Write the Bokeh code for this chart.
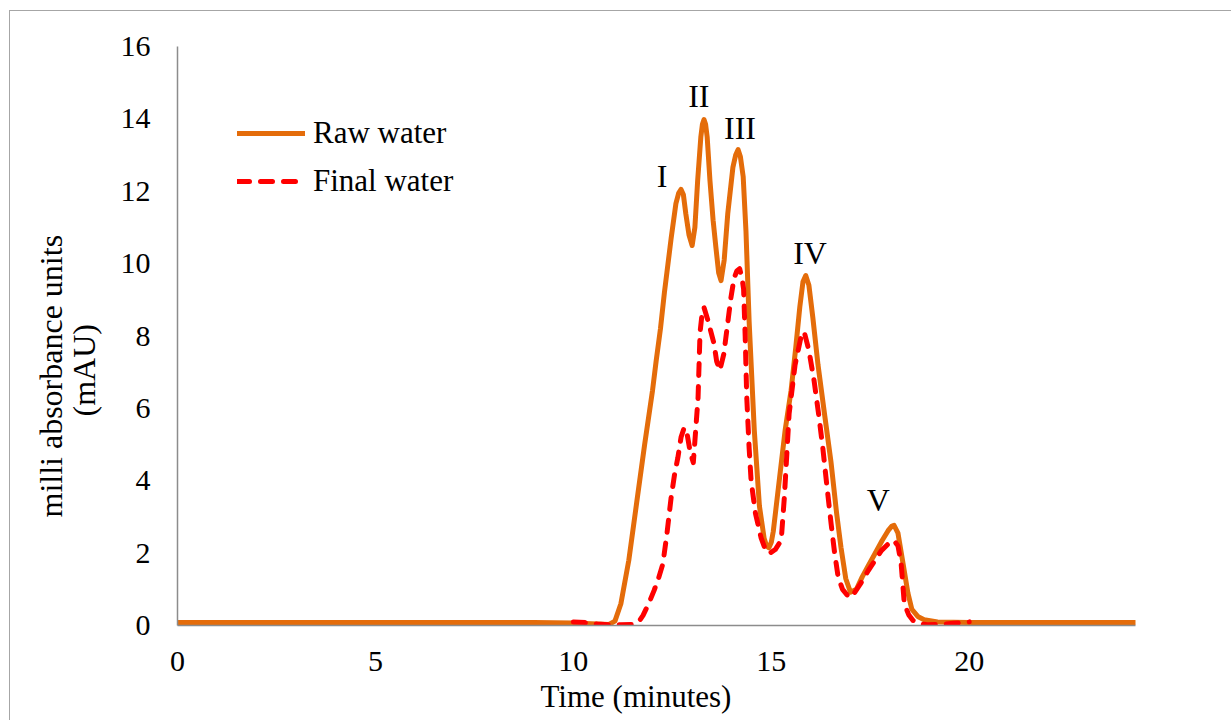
import math
from bokeh.plotting import figure
from bokeh.models import (Legend, LegendItem, Label, Range1d, FixedTicker, Title,
                          InlineStyleSheet)
from bokeh.embed import file_html
from bokeh.resources import INLINE

# ---- data ----
raw_time = [0, 5, 9, 10, 10.6, 10.9, 11.05, 11.2, 11.4, 11.6, 11.8, 12.0, 12.09, 12.2, 12.3, 12.47,
            12.59, 12.66, 12.72, 12.78, 12.84, 12.92, 13.0, 13.07, 13.14, 13.22, 13.26, 13.3, 13.34,
            13.38, 13.45, 13.53, 13.6, 13.67, 13.73, 13.81, 13.9, 14.03, 14.1, 14.16, 14.22, 14.29,
            14.36, 14.44, 14.57, 14.7, 14.82, 14.88, 14.94, 15.0, 15.05, 15.2, 15.35, 15.5, 15.62,
            15.72, 15.8, 15.87, 15.95, 16.05, 16.18, 16.35, 16.51, 16.65, 16.76, 16.88, 17.0, 17.15,
            17.3, 17.45, 17.6, 17.8, 17.95, 18.05, 18.1, 18.2, 18.33, 18.45, 18.55, 18.7, 18.86,
            19.2, 20, 24.2]
raw_water = [0.08, 0.08, 0.08, 0.07, 0.04, 0.03, 0.12, 0.6, 1.8, 3.4, 5.0, 6.5, 7.3, 8.2, 9.2, 10.7,
             11.66, 11.95, 12.05, 11.9, 11.38, 10.8, 10.5, 11.0, 12.3, 13.5, 13.85, 13.98, 13.85,
             13.5, 12.3, 11.2, 10.45, 9.75, 9.53, 10.1, 11.38, 12.66, 13.0, 13.15, 12.95, 12.4,
             10.9, 8.4, 5.4, 3.3, 2.4, 2.2, 2.15, 2.3, 2.6, 4.0, 5.4, 6.5, 7.7,
             8.8, 9.5, 9.67, 9.4, 8.5, 7.2, 5.8, 4.5, 3.1, 2.16, 1.3, 0.92, 1.0,
             1.35, 1.65, 1.95, 2.35, 2.62, 2.75, 2.77, 2.55, 1.7, 0.9, 0.45, 0.25, 0.16,
             0.1, 0.08, 0.08]

final_time = [10.0, 10.3, 10.6, 10.9, 11.2, 11.5, 11.65, 11.76, 11.9, 12.04, 12.15, 12.26, 12.36,
              12.47, 12.56, 12.64, 12.72, 12.8, 12.88, 12.95, 13.03, 13.09, 13.15, 13.2, 13.25,
              13.3, 13.4, 13.55, 13.62, 13.7, 13.8, 13.98, 14.06, 14.13, 14.2, 14.26, 14.3, 14.34,
              14.38, 14.44, 14.49, 14.6, 14.74, 14.85, 14.95, 15.1, 15.25, 15.33, 15.45, 15.6,
              15.75, 15.83, 15.95, 16.08, 16.2, 16.3, 16.4, 16.51, 16.6, 16.69, 16.8, 16.97, 17.1,
              17.25, 17.45, 17.62, 17.78, 17.95, 18.1, 18.2, 18.28, 18.36, 18.47, 18.58, 18.75,
              18.96, 19.3, 19.6, 20.0]
final_water = [0.1, 0.08, 0.04, 0.02, 0.02, 0.03, 0.1, 0.28, 0.6, 0.97, 1.3, 1.7, 2.5,
               3.54, 4.2, 4.64, 5.2, 5.47, 5.25, 4.8, 4.5, 5.4, 6.3, 8.1, 8.6,
               8.79, 8.43, 7.8, 7.3, 7.05, 7.5, 9.06, 9.6, 9.8, 9.86, 9.6, 9.3, 8.0,
               6.3, 4.9, 4.0, 3.1, 2.43, 2.1, 1.99, 2.1, 2.35, 3.55, 5.85, 7.2,
               7.97, 8.12, 7.6, 6.77, 5.8, 4.92, 3.9, 2.82, 2.0, 1.33, 1.0, 0.77, 0.9,
               1.15, 1.52, 1.8, 2.07, 2.25, 2.35, 2.2, 1.71, 0.6, 0.3, 0.14, 0.05,
               0.02, 0.03, 0.06, 0.1]

peak_names = ["I", "II", "III", "IV", "V"]
peak_x = [12.24, 13.17, 14.21, 15.98, 17.70]
peak_y = [12.41, 14.64, 13.76, 10.28, 3.48]

x_ticks = [0, 5, 10, 15, 20]
y_ticks = [0, 2, 4, 6, 8, 10, 12, 14, 16]

x_title = "Time (minutes)"
y_title_1 = "milli absorbance units"
y_title_2 = "(mAU)"

FONT = "Liberation Serif"
ORANGE = "#E46C0A"
RED = "#FF0000"
AXIS_GRAY = "#8c8c8c"

css = """
:host::after {
  content: "";
  position: absolute;
  left: 9px; top: 10px; width: 1400px; height: 900px;
  border: 1.5px solid #a6a6a6;
  pointer-events: none;
  box-sizing: border-box;
}
"""

p = figure(width=1231, height=720, output_backend="svg", toolbar_location=None,
           x_range=Range1d(0, 24.2), y_range=Range1d(0, 16),
           min_border_left=177, min_border_right=96, min_border_top=46, min_border_bottom=95)
p.stylesheets = [InlineStyleSheet(css=css)]
p.outline_line_color = None
p.grid.visible = False
p.background_fill_color = "white"
p.border_fill_color = "white"

for ax in (p.xaxis[0], p.yaxis[0]):
    ax.major_tick_line_color = None
    ax.minor_tick_line_color = None
    ax.axis_line_color = AXIS_GRAY
    ax.axis_line_width = 1.5
    ax.major_label_text_font = FONT
    ax.major_label_text_font_size = "30px"
    ax.major_label_text_color = "black"
    ax.major_tick_out = 0
    ax.major_tick_in = 0

p.xaxis.ticker = FixedTicker(ticks=x_ticks)
p.yaxis.ticker = FixedTicker(ticks=y_ticks)
p.xaxis.major_label_standoff = 26
p.yaxis.major_label_standoff = 27

r_raw = p.line(raw_time, raw_water, line_color=ORANGE, line_width=5, line_cap="round", line_join="round")
r_fin = p.line(final_time, final_water, line_color=RED, line_width=5, line_dash="12 11",
               line_cap="round", line_join="round")

legend = Legend(items=[LegendItem(label="Raw water", renderers=[r_raw]),
                       LegendItem(label="Final water", renderers=[r_fin])],
                location=(60, 424), padding=0, margin=0, spacing=8,
                glyph_width=68, glyph_height=40, label_standoff=8,
                label_text_font=FONT, label_text_font_size="31px", label_text_color="black",
                border_line_alpha=0, background_fill_alpha=0)
p.add_layout(legend)

for name, xx, yy in zip(peak_names, peak_x, peak_y):
    p.add_layout(Label(x=xx, y=yy, text=name, text_font=FONT, text_font_size="32px",
                       text_align="center", text_baseline="middle", text_color="black"))

# axis titles (as side titles so they can be positioned like the original)
p.add_layout(Title(text=x_title, align="left", offset=363, vertical_align="middle",
                   text_font=FONT, text_font_size="31px", text_font_style="normal",
                   text_color="black", standoff=8), "below")
p.add_layout(Title(text=y_title_2, align="left", offset=209, vertical_align="middle",
                   text_font=FONT, text_font_size="32px", text_font_style="normal",
                   text_color="black", standoff=30), "left")
p.add_layout(Title(text=y_title_1, align="left", offset=108, vertical_align="bottom",
                   text_font=FONT, text_font_size="32px", text_font_style="normal",
                   text_color="black", standoff=-38), "left")

open("out.html", "w").write(file_html(p, INLINE))
